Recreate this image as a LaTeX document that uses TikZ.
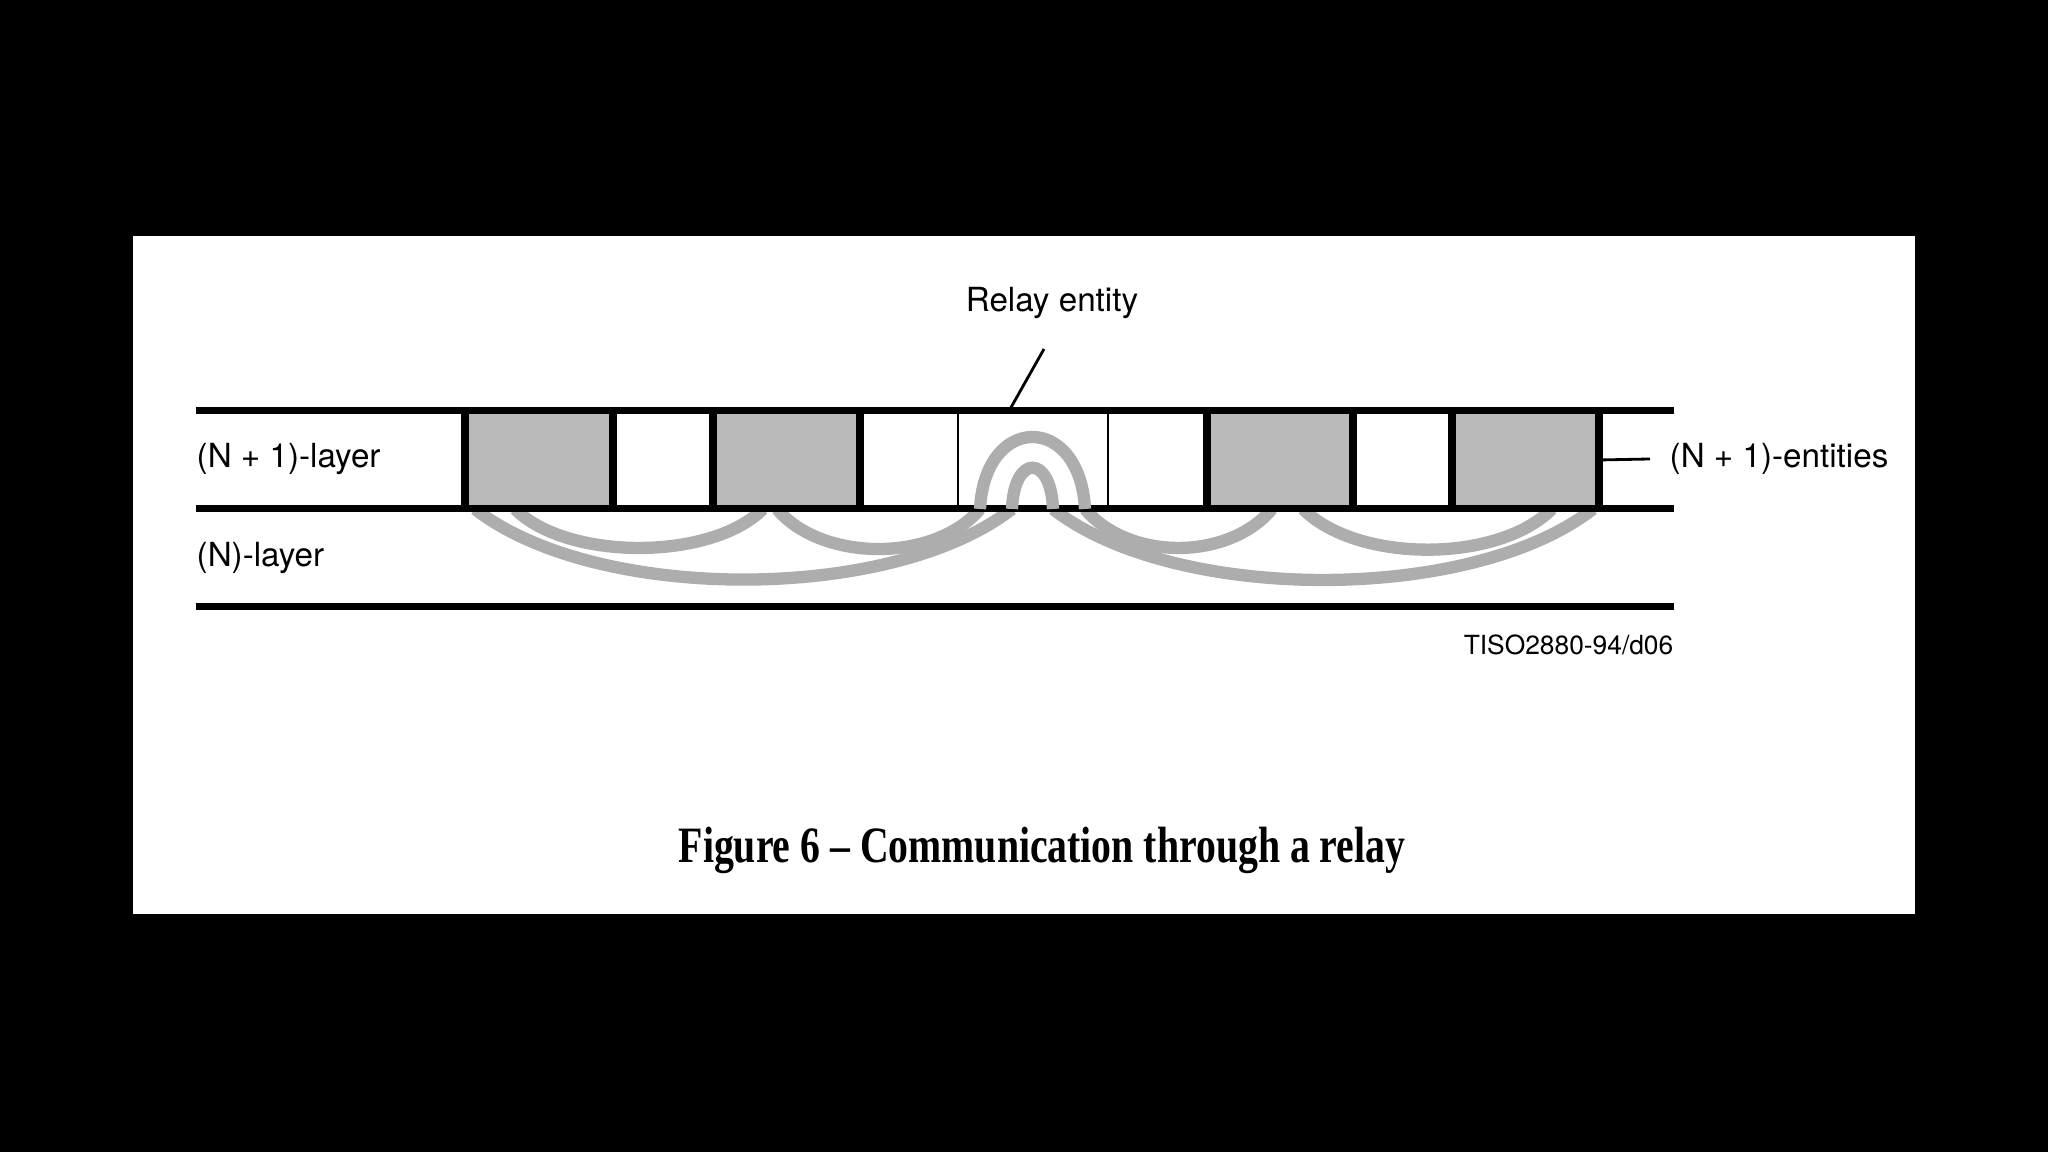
\documentclass[tikz,border=0pt]{standalone}
\usepackage{fontspec}
\setmainfont{TeX Gyre Heros}
\newfontfamily\captionfont{Liberation Serif}
\begin{document}
\begin{tikzpicture}[line join=miter, line cap=butt,
    layer/.style={line width=2pt},
    wall/.style={line width=2pt},
    thinwall/.style={line width=.85pt},
    entity/.style={fill=black!27},
    band/.style={line width=3.5pt, draw=black!32},
    leader/.style={line width=.8pt},
    lbl/.style={font=\fontsize{9.45}{11}\selectfont, inner sep=0pt}]
  \fill[black] (0,0) rectangle (20.48,11.52);
  \fill[white] (1.33,2.38) rectangle (19.15,9.16);
  \useasboundingbox (0,0) rectangle (20.48,11.52);
  \foreach \a/\b in {4.65/6.13, 7.13/8.60, 12.07/13.53, 14.52/15.99}
    \fill[entity] (\a,6.43) rectangle (\b,7.41);
  \foreach \a/\b/\o/\i/\l in {5.15/7.63/-45/-135/.76, 7.77/9.80/-50/-130/.88,
      10.85/12.72/-50/-130/.93, 13.03/15.52/-45/-135/.79,
      4.75/10.12/-38/-142/.73, 10.53/15.93/-38/-142/.73}
    \draw[band] (\a,6.43) to[out=\o, in=\i, looseness=\l] (\b,6.43);
  \foreach \y in {7.41,6.43,5.45}
    \draw[layer] (1.96,\y) -- (16.74,\y);
  \foreach \x in {4.65,6.13,7.13,8.60,12.07,13.53,14.52,15.99}
    \draw[wall] (\x,6.43) -- (\x,7.41);
  \foreach \x in {9.58,11.08}
    \draw[thinwall] (\x,6.43) -- (\x,7.41);
  % loops through the relay
  \draw[band] (9.80,6.43) .. controls (9.85,7.39) and (10.80,7.39) .. (10.85,6.43);
  \draw[band] (10.12,6.43) .. controls (10.14,6.98) and (10.51,6.98) .. (10.53,6.43);
  \node[lbl] (relaylbl) at (10.52,8.49) {Relay entity};
  \coordinate (rl1) at (10.44,8.03);
  \coordinate (rl2) at (10.09,7.41);
  \draw[leader] (rl1) -- (rl2);
  \node[lbl, anchor=west] (upper) at (1.96,6.93) {(N + 1)-layer};
  \node[lbl, anchor=west] (lower) at (1.96,5.94) {(N)-layer};
  \node[lbl, anchor=west] (entlbl) at (16.69,6.93) {(N + 1)-entities};
  \coordinate (ent) at (15.99,6.92);
  \draw[leader] (ent) -- ([xshift=-0.19cm]entlbl.west);
  \node[font=\fontsize{7.5}{9}\selectfont, anchor=east, inner sep=0pt] (ref) at (16.74,5.07) {TISO2880-94/d06};
  \node[font=\captionfont\bfseries\fontsize{14.5}{17}\selectfont, xscale=.78] (title) at (10.42,3.02) {Figure 6 – Communication through a relay};
\end{tikzpicture}
\end{document}
